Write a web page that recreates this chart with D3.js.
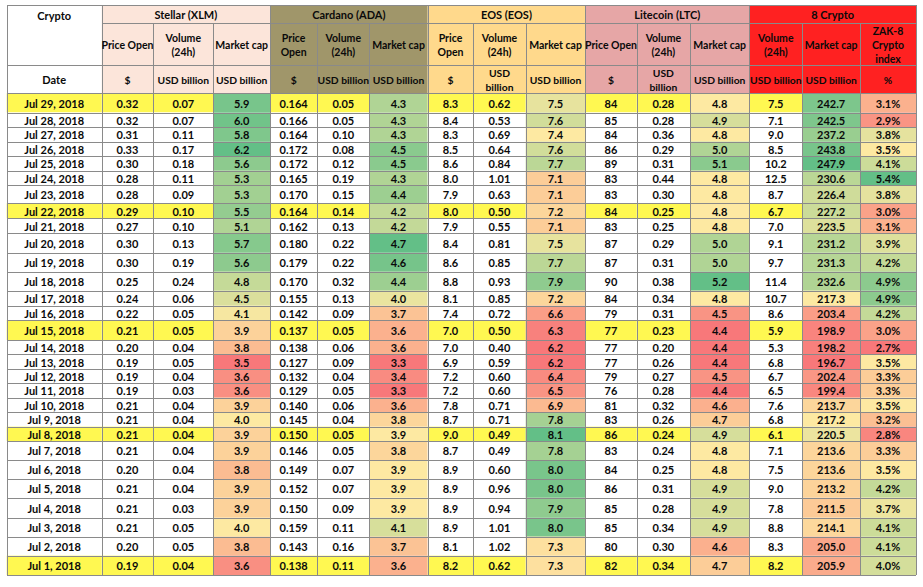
<!DOCTYPE html>
<html>
<head>
<meta charset="utf-8">
<script src="https://cdn.jsdelivr.net/npm/d3@7"></script>
<style>
  body { margin: 0; background: #fff; }
  svg { display: block; }
  text { font-family: Lato, "Open Sans", sans-serif; font-weight: 700; fill: #0a0a0a; }
</style>
</head>
<body>
<div id="chart"></div>
<script>
// ---- data (newest first) ----
const dates = ["Jul 29, 2018", "Jul 28, 2018", "Jul 27, 2018", "Jul 26, 2018", "Jul 25, 2018",
  "Jul 24, 2018", "Jul 23, 2018", "Jul 22, 2018", "Jul 21, 2018", "Jul 20, 2018", "Jul 19, 2018",
  "Jul 18, 2018", "Jul 17, 2018", "Jul 16, 2018", "Jul 15, 2018", "Jul 14, 2018", "Jul 13, 2018",
  "Jul 12, 2018", "Jul 11, 2018", "Jul 10, 2018", "Jul 9, 2018", "Jul 8, 2018", "Jul 7, 2018",
  "Jul 6, 2018", "Jul 5, 2018", "Jul 4, 2018", "Jul 3, 2018", "Jul 2, 2018", "Jul 1, 2018"];

const xlmPrice  = [0.32, 0.32, 0.31, 0.33, 0.30, 0.28, 0.28, 0.29, 0.27, 0.30, 0.30, 0.25, 0.24, 0.22, 0.21, 0.20, 0.19, 0.19, 0.19, 0.21, 0.21, 0.21, 0.21, 0.20, 0.21, 0.21, 0.21, 0.20, 0.19];
const xlmVolume = [0.07, 0.07, 0.11, 0.17, 0.18, 0.11, 0.09, 0.10, 0.10, 0.13, 0.19, 0.24, 0.06, 0.05, 0.05, 0.04, 0.05, 0.04, 0.03, 0.04, 0.04, 0.04, 0.04, 0.04, 0.04, 0.03, 0.05, 0.05, 0.04];
const xlmCap    = [5.9, 6.0, 5.8, 6.2, 5.6, 5.3, 5.3, 5.5, 5.1, 5.7, 5.6, 4.8, 4.5, 4.1, 3.9, 3.8, 3.5, 3.6, 3.6, 3.9, 4.0, 3.9, 3.9, 3.8, 3.9, 3.9, 4.0, 3.8, 3.6];

const adaPrice  = [0.164, 0.166, 0.164, 0.172, 0.172, 0.165, 0.170, 0.164, 0.162, 0.180, 0.179, 0.170, 0.155, 0.142, 0.137, 0.138, 0.127, 0.132, 0.129, 0.140, 0.145, 0.150, 0.146, 0.149, 0.152, 0.150, 0.159, 0.143, 0.138];
const adaVolume = [0.05, 0.05, 0.10, 0.08, 0.12, 0.19, 0.15, 0.14, 0.13, 0.22, 0.22, 0.32, 0.13, 0.09, 0.05, 0.06, 0.09, 0.04, 0.05, 0.06, 0.04, 0.05, 0.05, 0.07, 0.07, 0.09, 0.11, 0.16, 0.11];
const adaCap    = [4.3, 4.3, 4.3, 4.5, 4.5, 4.3, 4.4, 4.2, 4.2, 4.7, 4.6, 4.4, 4.0, 3.7, 3.6, 3.6, 3.3, 3.4, 3.3, 3.6, 3.8, 3.9, 3.8, 3.9, 3.9, 3.9, 4.1, 3.7, 3.6];

const eosPrice  = [8.3, 8.4, 8.3, 8.5, 8.6, 8.0, 7.9, 8.0, 7.9, 8.4, 8.6, 8.8, 8.1, 7.4, 7.0, 7.0, 6.9, 7.2, 7.2, 7.8, 8.7, 9.0, 8.7, 8.9, 8.9, 8.9, 8.9, 8.1, 8.2];
const eosVolume = [0.62, 0.53, 0.69, 0.64, 0.84, 1.01, 0.63, 0.50, 0.55, 0.81, 0.85, 0.93, 0.85, 0.72, 0.50, 0.40, 0.59, 0.60, 0.60, 0.71, 0.71, 0.49, 0.49, 0.60, 0.96, 0.94, 1.01, 1.02, 0.62];
const eosCap    = [7.5, 7.6, 7.4, 7.6, 7.7, 7.1, 7.1, 7.2, 7.1, 7.5, 7.7, 7.9, 7.2, 6.6, 6.3, 6.2, 6.2, 6.4, 6.5, 6.9, 7.8, 8.1, 7.8, 8.0, 8.0, 7.9, 8.0, 7.3, 7.3];

const ltcPrice  = [84, 85, 84, 86, 89, 83, 83, 84, 83, 87, 87, 90, 84, 79, 77, 77, 77, 79, 76, 81, 83, 86, 83, 84, 86, 85, 85, 80, 82];
const ltcVolume = [0.28, 0.28, 0.36, 0.29, 0.31, 0.44, 0.30, 0.25, 0.25, 0.29, 0.31, 0.38, 0.34, 0.31, 0.23, 0.20, 0.26, 0.27, 0.28, 0.32, 0.26, 0.24, 0.24, 0.25, 0.31, 0.28, 0.34, 0.30, 0.34];
const ltcCap    = [4.8, 4.9, 4.8, 5.0, 5.1, 4.8, 4.8, 4.8, 4.8, 5.0, 5.0, 5.2, 4.8, 4.5, 4.4, 4.4, 4.4, 4.5, 4.4, 4.6, 4.7, 4.9, 4.8, 4.8, 4.9, 4.9, 4.9, 4.6, 4.7];

const totalVolume = [7.5, 7.1, 9.0, 8.5, 10.2, 12.5, 8.7, 6.7, 7.0, 9.1, 9.7, 11.4, 10.7, 8.6, 5.9, 5.3, 6.8, 6.7, 6.5, 7.6, 6.8, 6.1, 7.1, 7.5, 9.0, 7.8, 8.8, 8.3, 8.2];
const totalCap    = [242.7, 242.5, 237.2, 243.8, 247.9, 230.6, 226.4, 227.2, 223.5, 231.2, 231.3, 232.6, 217.3, 203.4, 198.9, 198.2, 196.7, 202.4, 199.4, 213.7, 217.2, 220.5, 213.6, 213.6, 213.2, 211.5, 214.1, 205.0, 205.9];
const zakIndex    = [3.1, 2.9, 3.8, 3.5, 4.1, 5.4, 3.8, 3.0, 3.1, 3.9, 4.2, 4.9, 4.9, 4.2, 3.0, 2.7, 3.5, 3.3, 3.3, 3.5, 3.2, 2.8, 3.3, 3.5, 4.2, 3.7, 4.1, 4.1, 4.0];

// ---- layout of the sheet ----
const width = 923, height = 587;
const colEdges = [6.7, 101.7, 153.3, 213.3, 270, 317.3, 369.3, 427.7, 473.3, 525.7, 585.3, 636.7, 690, 749.3, 802.3, 860, 916];
const headEdges = [5, 23.3, 65.3, 93.3];   // group row / label row / unit row
const rowHeights = [19.2, 14.8, 14.4, 14.3, 14.7, 14.3, 18.3, 15, 15, 19.4, 19, 19, 15, 14.3, 20,
  14.3, 14.7, 14.3, 14.4, 14.6, 14.4, 14.3, 19, 19, 18.7, 20, 19, 19, 19.3];

const groups = [
  { name: "Stellar (XLM)", color: "#fce5da", from: 1, to: 3 },
  { name: "Cardano (ADA)", color: "#a0966a", from: 4, to: 6 },
  { name: "EOS (EOS)", color: "#ffd98c", from: 7, to: 9 },
  { name: "Litecoin (LTC)", color: "#e6a6a6", from: 10, to: 12 },
  { name: "8 Crypto", color: "#ff2121", from: 13, to: 15 }
];

const f2 = d3.format(".2f"), f1 = d3.format(".1f"), f3 = d3.format(".3f"), f0 = d3.format(".0f");
const columns = [
  { values: dates, fmt: d => d, label: [], unit: ["Date"] },
  { values: xlmPrice, fmt: f2, label: ["Price Open"], unit: ["$"] },
  { values: xlmVolume, fmt: f2, label: ["Volume", "(24h)"], unit: ["USD billion"] },
  { values: xlmCap, fmt: f1, label: ["Market cap"], unit: ["USD billion"], scaled: true },
  { values: adaPrice, fmt: f3, label: ["Price", "Open"], unit: ["$"] },
  { values: adaVolume, fmt: f2, label: ["Volume", "(24h)"], unit: ["USD billion"] },
  { values: adaCap, fmt: f1, label: ["Market cap"], unit: ["USD billion"], scaled: true },
  { values: eosPrice, fmt: f1, label: ["Price", "Open"], unit: ["$"] },
  { values: eosVolume, fmt: f2, label: ["Volume", "(24h)"], unit: ["USD", "billion"] },
  { values: eosCap, fmt: f1, label: ["Market cap"], unit: ["USD billion"], scaled: true },
  { values: ltcPrice, fmt: f0, label: ["Price Open"], unit: ["$"] },
  { values: ltcVolume, fmt: f2, label: ["Volume", "(24h)"], unit: ["USD", "billion"] },
  { values: ltcCap, fmt: f1, label: ["Market cap"], unit: ["USD billion"], scaled: true },
  { values: totalVolume, fmt: f1, label: ["Volume", "(24h)"], unit: ["USD billion"] },
  { values: totalCap, fmt: f1, label: ["Market cap"], unit: ["USD billion"], scaled: true },
  { values: zakIndex, fmt: d => f1(d) + "%", label: ["ZAK-8", "Crypto", "index"], unit: ["%"], scaled: true }
];

// Excel style 3-colour scale: min red, median yellow, max green
columns.forEach(c => {
  if (!c.scaled) return;
  c.color = d3.scaleLinear()
    .domain([d3.min(c.values), d3.median(c.values), d3.max(c.values)])
    .range(["#f8787a", "#fde9a2", "#63bf87"])
    .interpolate(d3.interpolateRgb);
});

// Sundays are highlighted
const parseDate = d3.timeParse("%b %e, %Y");
const isSunday = dates.map(d => parseDate(d.replace(/ (\d),/, "  $1,")).getDay() === 0);

// row band positions
const rowTops = d3.cumsum([headEdges[3], ...rowHeights]);
const rowY = d3.scaleOrdinal().domain(d3.range(dates.length)).range(Array.from(rowTops).slice(0, dates.length));
const colX = d3.scaleOrdinal().domain(d3.range(columns.length)).range(colEdges.slice(0, -1));
const colW = i => colEdges[i + 1] - colEdges[i];
const bottom = rowTops[dates.length];

const svg = d3.select("#chart").append("svg")
  .attr("width", width)
  .attr("height", height);

// header backgrounds
svg.append("g").selectAll("rect")
  .data(groups)
  .join("rect")
  .attr("x", d => colEdges[d.from])
  .attr("y", headEdges[0])
  .attr("width", d => colEdges[d.to + 1] - colEdges[d.from])
  .attr("height", headEdges[3] - headEdges[0])
  .attr("fill", d => d.color);

// body cells
const cells = [];
dates.forEach((d, r) => columns.forEach((c, i) => cells.push({ r, i, v: c.values[r], col: c })));

const yellow = "#fff851";
svg.append("g").selectAll("rect")
  .data(cells)
  .join("rect")
  .attr("x", d => colX(d.i))
  .attr("y", d => rowY(d.r))
  .attr("width", d => colW(d.i))
  .attr("height", d => rowHeights[d.r])
  .attr("fill", d => d.col.scaled ? d.col.color(d.v) : (isSunday[d.r] ? yellow : "#fff"));

// grid lines
const grid = svg.append("g").attr("stroke", "#8a8a8a").attr("stroke-width", 1).attr("shape-rendering", "crispEdges");
const hLines = [
  { y: headEdges[0], x1: colEdges[0], x2: colEdges[16] },
  { y: headEdges[1], x1: colEdges[1], x2: colEdges[16] },
  { y: headEdges[2], x1: colEdges[0], x2: colEdges[16] },
  ...Array.from(rowTops).map(y => ({ y, x1: colEdges[0], x2: colEdges[16] }))
];
grid.selectAll(".h").data(hLines).join("line")
  .attr("x1", d => d.x1).attr("x2", d => d.x2)
  .attr("y1", d => Math.round(d.y) + 0.5).attr("y2", d => Math.round(d.y) + 0.5);

const groupStarts = new Set([0, 1, ...groups.map(g => g.from), 16]);
grid.selectAll(".v").data(colEdges).join("line")
  .attr("x1", d => Math.round(d) + 0.5).attr("x2", d => Math.round(d) + 0.5)
  .attr("y1", (d, i) => groupStarts.has(i) ? headEdges[0] : headEdges[1])
  .attr("y2", bottom);

// header text
const lineH = 14;
function multiLine(g, lines, cx, cy, size) {
  const t = g.append("text").attr("text-anchor", "middle").attr("font-size", size);
  lines.forEach((s, k) => {
    t.append("tspan")
      .attr("x", cx)
      .attr("y", cy + (k - (lines.length - 1) / 2) * lineH)
      .attr("dy", "0.35em")
      .text(s);
  });
}
const head = svg.append("g");
multiLine(head, ["Crypto"], (colEdges[0] + colEdges[1]) / 2, 16, 11);
groups.forEach(g => multiLine(head, [g.name], (colEdges[g.from] + colEdges[g.to + 1]) / 2, (headEdges[0] + headEdges[1]) / 2 + 1, 11));
columns.forEach((c, i) => {
  const cx = colX(i) + colW(i) / 2;
  if (c.label.length) multiLine(head, c.label, cx, (headEdges[1] + headEdges[2]) / 2 + 1, 10.5);
  multiLine(head, c.unit, cx, (headEdges[2] + headEdges[3]) / 2 + 1, i === 0 ? 11 : 10.3);
});

// body text
svg.append("g").selectAll("text")
  .data(cells)
  .join("text")
  .attr("text-anchor", "middle")
  .attr("font-size", 11)
  .attr("x", d => colX(d.i) + colW(d.i) / 2)
  .attr("y", d => rowY(d.r) + rowHeights[d.r] / 2 + 1)
  .attr("dy", "0.35em")
  .text(d => d.col.fmt(d.v));
</script>
</body>
</html>
